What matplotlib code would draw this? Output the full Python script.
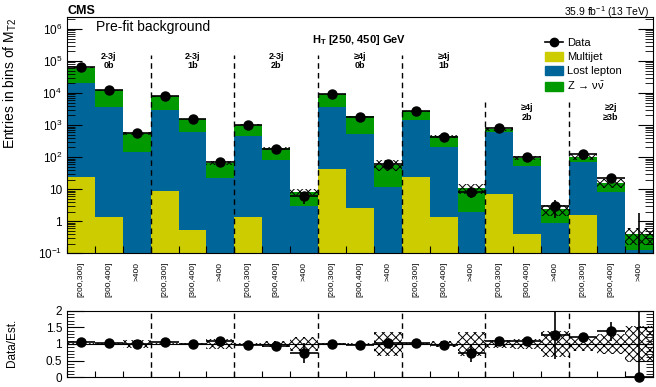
import numpy as np
import matplotlib.pyplot as plt
from matplotlib.lines import Line2D
from matplotlib.patches import Patch
from matplotlib.ticker import LogLocator, NullFormatter, MultipleLocator

plt.rcParams['font.family'] = ['Liberation Sans', 'DejaVu Sans']
plt.rcParams['mathtext.fontset'] = 'custom'
plt.rcParams['mathtext.rm'] = 'Liberation Sans'
plt.rcParams['mathtext.it'] = 'Liberation Sans:italic'
plt.rcParams['mathtext.bf'] = 'Liberation Sans:bold'
plt.rcParams['hatch.linewidth'] = 0.7
plt.rcParams['hatch.color'] = '#8c8c8c'

# регионы (7 групп по 3 бина MT2)
groups = ['2-3j\n0b', '2-3j\n1b', '2-3j\n2b', '≥4j\n0b', '≥4j\n1b', '≥4j\n2b', '≥2j\n≥3b']
mt2_bins = ['[200,300]', '[300,400]', '>400']

multijet = [24, 1.4, 0, 8.7, 0.52, 0, 1.4, 0, 0, 44, 2.6, 0,
            24, 1.4, 0, 7.0, 0.41, 0, 1.55, 0, 0]
lostlep = [19980, 3600, 146, 2920, 620, 22.6, 449, 81, 2.9, 3516, 507, 11.3,
           1416, 199, 1.95, 593, 52.6, 0.91, 66.5, 7.9, 0.125]
znunu = [41700, 8460, 404, 4880, 920, 43.4, 570, 106, 5.4, 5450, 1347, 47.5,
         1220, 243, 9.0, 130, 40, 1.45, 35, 8.1, 0.285]
data = [66000, 12300, 550, 8200, 1540, 71, 1000, 178, 6, 9100, 1820, 60,
        2740, 430, 8, 790, 102, 3, 124, 22, 0]
# относительная неопределенность фона
bkg_unc = [0.03, 0.03, 0.12, 0.03, 0.03, 0.15, 0.03, 0.10, 0.20, 0.03, 0.04, 0.35,
           0.03, 0.10, 0.35, 0.12, 0.15, 0.40, 0.20, 0.30, 0.55]

c_mj = '#cccc00'
c_ll = '#00669a'
c_zn = '#009a00'

mj = np.array(multijet, float)
ll = np.array(lostlep, float)
zn = np.array(znunu, float)
d = np.array(data, float)
u = np.array(bkg_unc)
tot = mj + ll + zn
n = len(d)
edges = np.arange(n + 1)
x = edges[:-1] + 0.5

fig = plt.figure(figsize=(6.56, 3.87), dpi=100)
ax1 = fig.add_axes([0.1021, 0.3455, 0.893, 0.6098])
ax2 = fig.add_axes([0.1021, 0.0251, 0.893, 0.1721])

ax1.set_yscale('log')
ax1.bar(edges[:-1], mj, width=1, align='edge', color=c_mj, lw=0)
ax1.bar(edges[:-1], ll, bottom=mj, width=1, align='edge', color=c_ll, lw=0)
ax1.bar(edges[:-1], zn, bottom=mj + ll, width=1, align='edge', color=c_zn, lw=0)
ax1.fill_between(edges, np.append(tot * (1 - u), 0), np.append(tot * (1 + u), 0),
                 step='post', facecolor='none', hatch='xxxx', lw=0)

ok = d > 0
ax1.errorbar(x[ok], d[ok], xerr=0.5, yerr=np.sqrt(d[ok]), fmt='o', color='k',
             ms=6.5, elinewidth=1.2, capsize=0)
ax1.vlines(x[~ok], 0.1, 1.84, color='k', lw=1.2)

ax1.vlines([3, 6, 9, 12], 0.1, 1.5e5, color='k', lw=1, linestyles=(0, (4, 3)))
ax1.vlines([15, 18], 0.1, 5.3e3, color='k', lw=1, linestyles=(0, (4, 3)))

ax1.set_xlim(0, n)
ax1.set_ylim(0.1, 2.3e6)
ax1.set_yticks([0.1, 1, 10, 1e2, 1e3, 1e4, 1e5, 1e6],
               ['$10^{-1}$', '1', '10', '$10^{2}$', '$10^{3}$', '$10^{4}$', '$10^{5}$', '$10^{6}$'])
ax1.yaxis.set_minor_locator(LogLocator(subs=np.arange(2, 10), numticks=20))
ax1.yaxis.set_minor_formatter(NullFormatter())
ax1.tick_params(axis='y', which='both', direction='in', right=True, labelsize=8.5)
ax1.tick_params(axis='y', which='major', length=11)
ax1.tick_params(axis='y', which='minor', length=5.5)
ax1.set_xticks(edges, [''] * (n + 1))
ax1.set_xticks(x, mt2_bins * 7, minor=True)
ax1.tick_params(axis='x', which='major', direction='in', length=5)
ax1.tick_params(axis='x', which='minor', length=0, labelsize=6, pad=6, labelrotation=90)

for i, g in enumerate(groups):
    yy = 0.815 if i < 5 else 0.597
    ax1.text(3 * i + 1.5, yy, g, transform=ax1.get_xaxis_transform(), ha='center',
             va='center', fontsize=6.5, fontweight='bold', linespacing=1.1)
ax1.text(0.498, 0.904, r'H$_{\mathbf{T}}$ [250, 450] GeV', transform=ax1.transAxes,
         ha='center', va='center', fontsize=8, fontweight='bold')
ax1.text(0.05, 0.96, 'Pre-fit background', transform=ax1.transAxes, ha='left',
         va='center', fontsize=10)

handles = [Line2D([0], [0], color='k', marker='o', ms=6, lw=1.2),
           Patch(color=c_mj), Patch(color=c_ll), Patch(color=c_zn)]
labels = ['Data', 'Multijet', 'Lost lepton', r'Z$\,\rightarrow\,\mathrm{\nu\bar{\nu}}$']
ax1.legend(handles, labels, loc='upper left', bbox_to_anchor=(0.816, 0.915),
           frameon=False, fontsize=8, handlelength=1.6, handleheight=0.9,
           labelspacing=0.35, borderpad=0, borderaxespad=0, handletextpad=0.35)

fig.text(67 / 656, 1 - 10.7 / 387, 'CMS', fontsize=9, fontweight='bold', va='center')
fig.text(649 / 656, 1 - 12 / 387, r'35.9 fb$^{-1}$ (13 TeV)', fontsize=7.5,
         ha='right', va='center')
fig.text(0.016, 1 - 18 / 387, r'Entries in bins of M$_{\mathrm{T2}}$', rotation=90,
         ha='center', va='top', fontsize=10)
fig.text(0.018, 1 - 343 / 387, 'Data/Est.', rotation=90, ha='center', va='center',
         fontsize=8.5)

# ratio
ratio = d / tot
rerr_lo = np.sqrt(d) / tot
rerr_hi = np.where(d > 0, np.sqrt(d), 1.84) / tot
ax2.fill_between(edges, np.append(1 - u, 1), np.append(1 + u, 1), step='post',
                 facecolor='none', hatch='xxxx', lw=0)
ax2.axhline(1, color='k', lw=0.8)
ax2.errorbar(x, ratio, xerr=0.5, yerr=[rerr_lo, rerr_hi], fmt='none', ecolor='k',
             elinewidth=1.2, capsize=0)
ax2.plot(x, ratio, 'o', color='k', ms=6.5, clip_on=False, zorder=5)
ax2.vlines([3, 6, 9, 12, 15, 18], 0, 2, color='k', lw=1, linestyles=(0, (4, 3)))
ax2.set_xlim(0, n)
ax2.set_ylim(0, 2)
ax2.set_yticks([0, 0.5, 1, 1.5, 2], ['0', '0.5', '1', '1.5', '2'])
ax2.yaxis.set_minor_locator(MultipleLocator(0.1))
ax2.tick_params(axis='y', which='both', direction='in', right=True, labelsize=8.5)
ax2.tick_params(axis='y', which='major', length=12)
ax2.tick_params(axis='y', which='minor', length=5)
ax2.set_xticks(edges, [''] * (n + 1))
ax2.tick_params(axis='x', which='major', direction='in', length=4.5)

plt.savefig('out.png', dpi=100)
